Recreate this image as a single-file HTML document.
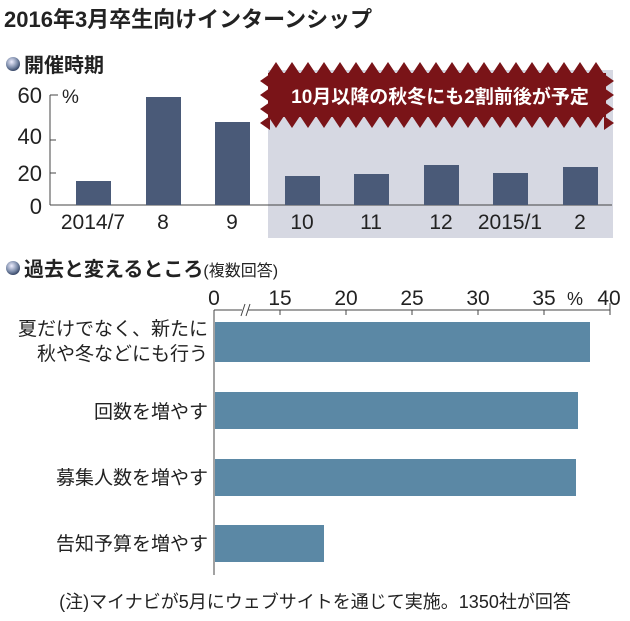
<!DOCTYPE html>
<html><head><meta charset="utf-8">
<style>
html,body{margin:0;padding:0;background:#fff;}
svg{display:block;font-family:"Liberation Sans Narrow","Liberation Sans","Noto Sans CJK JP",sans-serif;}
.j{font-family:"Liberation Sans","Noto Sans CJK JP",sans-serif;}
</style></head><body>
<svg width="630" height="621" viewBox="0 0 630 621" xmlns="http://www.w3.org/2000/svg">
<text class="j" x="4" y="27" font-size="22" font-weight="bold" fill="#222">2016年3月卒生向けインターンシップ</text>
<defs><radialGradient id="g" cx="0.4" cy="0.35" r="0.7"><stop offset="0" stop-color="#eef"/><stop offset="0.6" stop-color="#7a8aa8"/><stop offset="1" stop-color="#2a3a5a"/></radialGradient></defs>
<circle cx="13" cy="64" r="7" fill="url(#g)"/>
<text class="j" x="24" y="72" font-size="20" font-weight="bold" fill="#222">開催時期</text>
<rect x="268" y="70" width="345" height="168" fill="#d6d8e2"/>
<g fill="#7a1418">
<rect x="268" y="73" width="338" height="44"/>
<path d="M268,74 l8,-12 8,12 l8,-12 8,12 l8,-12 8,12 l8,-12 8,12 l8,-12 8,12 l8,-12 8,12 l8,-12 8,12 l8,-12 8,12 l8,-12 8,12 l8,-12 8,12 l8,-12 8,12 l8,-12 8,12 l8,-12 8,12 l8,-12 8,12 l8,-12 8,12 l8,-12 8,12 l8,-12 8,12 l8,-12 8,12 l8,-12 8,12 l8,-12 8,12 l8,-12 8,12 Z"/>
<path d="M268,116 l8,12 8,-12 l8,12 8,-12 l8,12 8,-12 l8,12 8,-12 l8,12 8,-12 l8,12 8,-12 l8,12 8,-12 l8,12 8,-12 l8,12 8,-12 l8,12 8,-12 l8,12 8,-12 l8,12 8,-12 l8,12 8,-12 l8,12 8,-12 l8,12 8,-12 l8,12 8,-12 l8,12 8,-12 l8,12 8,-12 l8,12 8,-12 l8,12 8,-12 l8,12 8,-12 Z"/>
<path d="M270,74 l-10,7 10,7 l-10,7 10,7 l-10,7 10,7 l-10,7 10,7 Z"/>
<path d="M604,74 l10,7 -10,7 l10,7 -10,7 l10,7 -10,7 l10,7 -10,7 Z"/>
</g>
<text class="j" x="440" y="103" font-size="19" font-weight="bold" fill="#fff" text-anchor="middle">10月以降の秋冬にも2割前後が予定</text>
<g font-size="22" fill="#222" text-anchor="end">
<text x="42" y="103">60</text><text x="42" y="144">40</text><text x="42" y="181">20</text><text x="42" y="214">0</text>
</g>
<text x="62" y="103" font-size="19" fill="#222">%</text>
<line x1="50" y1="95" x2="50" y2="205" stroke="#444"/>
<line x1="50" y1="95" x2="58" y2="95" stroke="#444"/>
<line x1="50" y1="140" x2="56" y2="140" stroke="#444"/>
<line x1="50" y1="173" x2="56" y2="173" stroke="#444"/>
<line x1="50" y1="205" x2="612" y2="205" stroke="#444"/>
<g fill="#4a5a78">
<rect x="76" y="181" width="35" height="24"/>
<rect x="146" y="97" width="35" height="108"/>
<rect x="215" y="122" width="35" height="83"/>
<rect x="285" y="176" width="35" height="29"/>
<rect x="354" y="174" width="35" height="31"/>
<rect x="424" y="165" width="35" height="40"/>
<rect x="493" y="173" width="35" height="32"/>
<rect x="563" y="167" width="35" height="38"/>
</g>
<g font-size="21" fill="#222" text-anchor="middle">
<text x="93" y="229">2014/7</text><text x="163" y="229">8</text><text x="232" y="229">9</text>
<text x="302" y="229">10</text><text x="371" y="229">11</text><text x="441" y="229">12</text>
<text x="510" y="229">2015/1</text><text x="580" y="229">2</text>
</g>
<circle cx="13" cy="268" r="7" fill="url(#g)"/>
<text class="j" x="24" y="276" font-size="20" font-weight="bold" fill="#222">過去と変えるところ<tspan font-size="16" font-weight="normal">(複数回答)</tspan></text>
<g font-size="21" fill="#222" text-anchor="middle">
<text x="214" y="305">0</text><text x="280" y="305">15</text><text x="346" y="305">20</text>
<text x="412" y="305">25</text><text x="478" y="305">30</text><text x="544" y="305">35</text><text x="609" y="305">40</text>
</g>
<text x="575" y="305" font-size="18" fill="#222" text-anchor="middle">%</text>
<line x1="214" y1="310" x2="610" y2="310" stroke="#444"/>
<g stroke="#444"><line x1="280" y1="310" x2="280" y2="315"/><line x1="346" y1="310" x2="346" y2="315"/><line x1="412" y1="310" x2="412" y2="315"/><line x1="478" y1="310" x2="478" y2="315"/><line x1="544" y1="310" x2="544" y2="315"/><line x1="610" y1="303" x2="610" y2="315"/></g>
<rect x="242" y="303" width="6" height="14" fill="#fff"/>
<line x1="241" y1="316" x2="245" y2="304" stroke="#444"/><line x1="246" y1="316" x2="250" y2="304" stroke="#444"/>
<line x1="214" y1="310" x2="214" y2="575" stroke="#444"/>
<g fill="#5b88a5">
<rect x="215" y="322" width="375" height="40"/>
<rect x="215" y="392" width="363" height="37"/>
<rect x="215" y="459" width="361" height="37"/>
<rect x="215" y="525" width="109" height="37"/>
</g>
<g class="j" font-size="19" fill="#222" text-anchor="end">
<text x="208" y="335">夏だけでなく、新たに</text>
<text x="208" y="360">秋や冬などにも行う</text>
<text x="208" y="418">回数を増やす</text>
<text x="208" y="484">募集人数を増やす</text>
<text x="208" y="550">告知予算を増やす</text>
</g>
<text class="j" x="315" y="608" font-size="18" fill="#222" text-anchor="middle">(注)マイナビが5月にウェブサイトを通じて実施。1350社が回答</text>
</svg>
</body></html>
